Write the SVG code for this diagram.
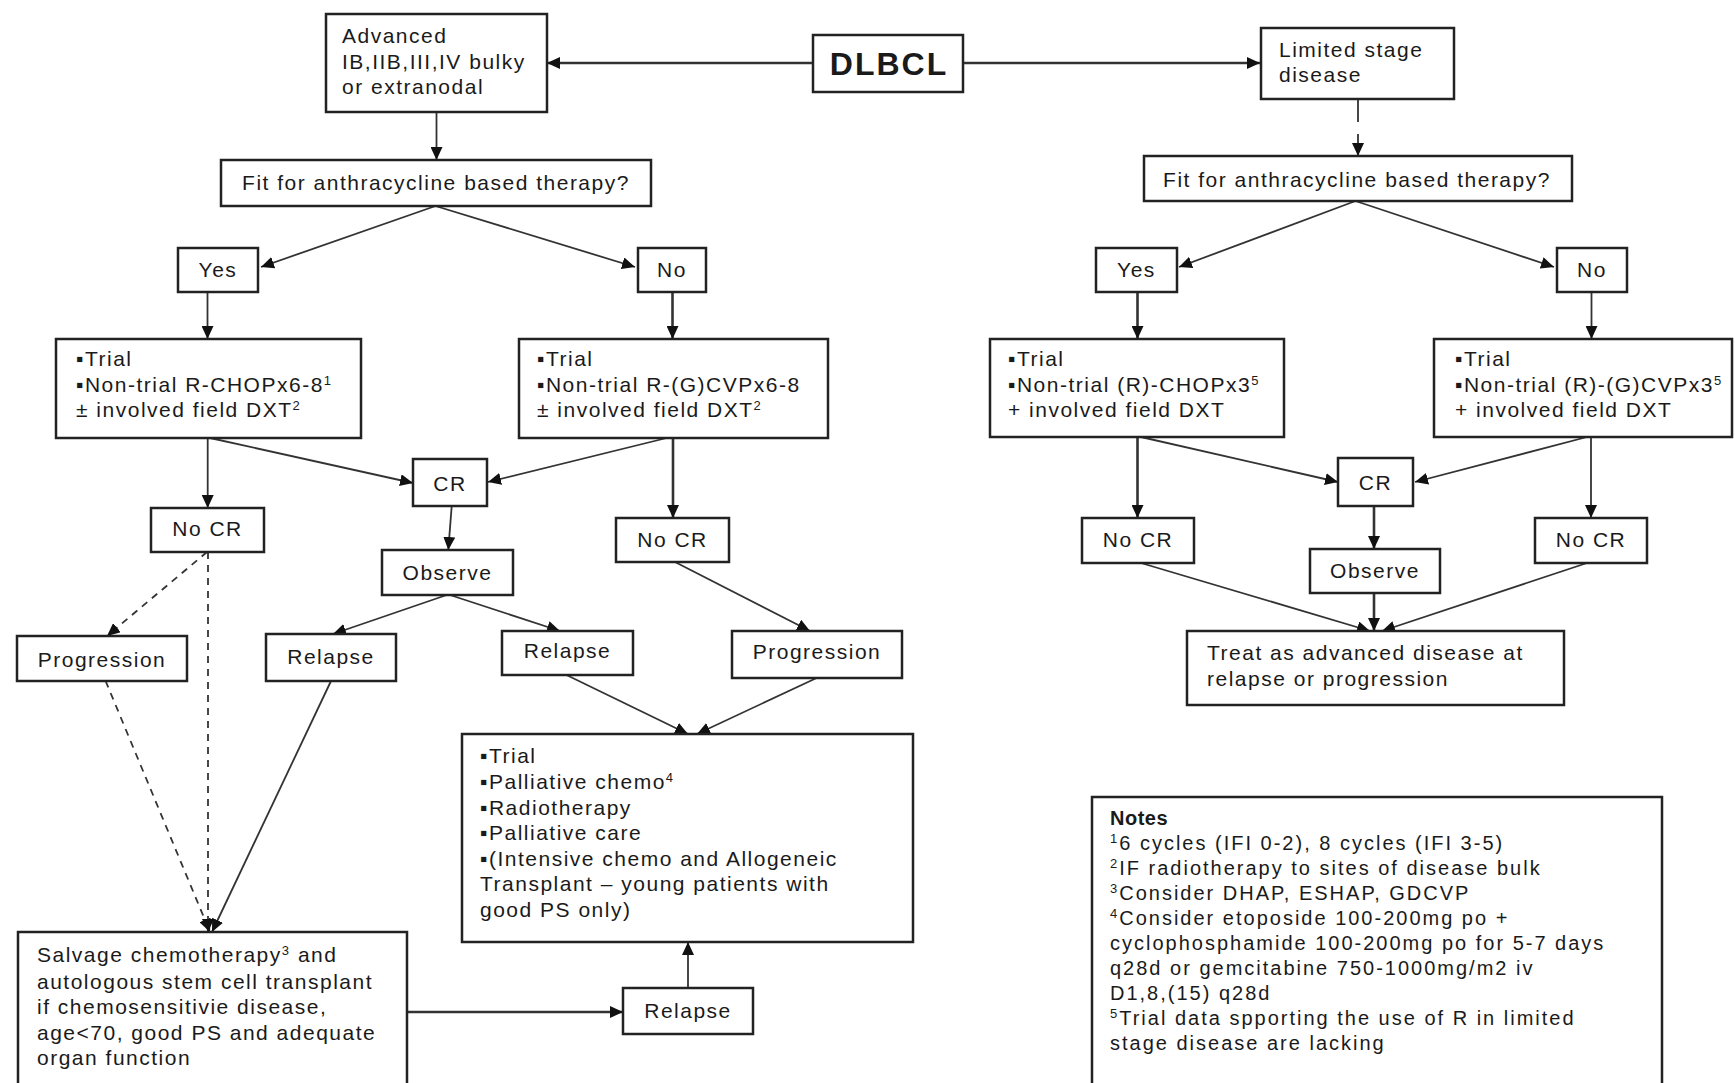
<svg xmlns="http://www.w3.org/2000/svg" width="1735" height="1083" viewBox="0 0 1735 1083">
<defs>
<marker id="ah" markerUnits="userSpaceOnUse" markerWidth="14" markerHeight="12" refX="13" refY="6" orient="auto">
<path d="M0,0 L13,6 L0,12 z" fill="#111"/>
</marker>
<style>
.box{fill:#fff;stroke:#222;stroke-width:2.5}
.t{font-family:"Liberation Sans",Arial,sans-serif;font-size:21px;letter-spacing:1.5px;fill:#1a1a1a}
.c{text-anchor:middle}
.n{font-family:"Liberation Sans",Arial,sans-serif;font-size:20px;letter-spacing:2px;fill:#1a1a1a}
.b{font-weight:bold}
.sup{font-size:13px;baseline-shift:super}
.ln{fill:none;stroke:#333;stroke-width:1.8;marker-end:url(#ah)}
.th{stroke-width:2.6}
.ds{stroke-dasharray:7 6}
</style>
</defs>
<rect width="1735" height="1083" fill="#fff"/>

<g id="connectors">
<path class="ln th" d="M813,63 H547"/>
<path class="ln th" d="M962,63 H1260"/>
<path class="ln" d="M436.5,112 V160"/>
<path class="ln" d="M1358,99 V156" stroke-dasharray="23 12 100"/>
<path class="ln" d="M435.5,206 L261,267"/>
<path class="ln" d="M435.5,206 L635,267"/>
<path class="ln" d="M207.5,292 V339"/>
<path class="ln th" d="M672.5,292 V339"/>
<path class="ln" d="M1355.5,201 L1179,267"/>
<path class="ln" d="M1355.5,201 L1554,267"/>
<path class="ln th" d="M1137.5,292 V339"/>
<path class="ln" d="M1591.5,292 V339"/>
<path class="ln" d="M207.7,438 V508"/>
<path class="ln" d="M210,438 L413,483"/>
<path class="ln" d="M666.7,438 L488,482"/>
<path class="ln th" d="M673,438 V518"/>
<path class="ln" d="M451.7,506 L448.3,550"/>
<path class="ln" d="M446.7,595 L333,634"/>
<path class="ln" d="M450,595 L560,631"/>
<path class="ln" d="M675,562 L810,631"/>
<path class="ln ds" d="M207,552 L107,636"/>
<path class="ln ds" d="M208,552 V932"/>
<path class="ln ds" d="M105.6,681 L210,932"/>
<path class="ln" d="M331,681 L212,932"/>
<path class="ln" d="M566.5,675 L688,734"/>
<path class="ln" d="M816.6,678 L697,734"/>
<path class="ln th" d="M407,1012 H623"/>
<path class="ln" d="M688,988 V942"/>
<path class="ln th" d="M1137.5,437 V518"/>
<path class="ln" d="M1141,437 L1338,482"/>
<path class="ln" d="M1587,437 L1415,482"/>
<path class="ln" d="M1591,437 V518"/>
<path class="ln th" d="M1374,506 V549"/>
<path class="ln th" d="M1374,593 V631"/>
<path class="ln" d="M1141,563 L1370,631"/>
<path class="ln" d="M1587,563 L1382,631"/>
</g>

<g id="dlbcl">
<rect class="box" x="813" y="35" width="150" height="57"/>
<text class="t b" x="889" y="75" text-anchor="middle" style="font-size:32px;letter-spacing:2px">DLBCL</text>
</g>

<g id="advanced">
<rect class="box" x="326" y="14" width="221" height="98"/>
<text class="t" x="342" y="43">Advanced</text>
<text class="t" x="342" y="69">IB,IIB,III,IV bulky</text>
<text class="t" x="342" y="94">or extranodal</text>
</g>

<g id="limited">
<rect class="box" x="1261" y="28" width="193" height="71"/>
<text class="t" x="1279" y="57">Limited stage</text>
<text class="t" x="1279" y="82">disease</text>
</g>

<g id="fit-left">
<rect class="box" x="221" y="160" width="430" height="46"/>
<text class="t c" x="436" y="190">Fit for anthracycline based therapy?</text>
</g>

<g id="fit-right">
<rect class="box" x="1144" y="156" width="428" height="45"/>
<text class="t c" x="1357" y="187">Fit for anthracycline based therapy?</text>
</g>

<g id="yes-left">
<rect class="box" x="178" y="248" width="80" height="44"/>
<text class="t c" x="218" y="277">Yes</text>
</g>
<g id="no-left">
<rect class="box" x="638" y="248" width="68" height="44"/>
<text class="t c" x="672" y="277">No</text>
</g>
<g id="yes-right">
<rect class="box" x="1096" y="248" width="81" height="44"/>
<text class="t c" x="1136.5" y="277">Yes</text>
</g>
<g id="no-right">
<rect class="box" x="1557" y="248" width="70" height="44"/>
<text class="t c" x="1592" y="277">No</text>
</g>

<g id="trial-left-1">
<rect class="box" x="56" y="339" width="305" height="99"/>
<text class="t" x="76" y="366">▪Trial</text>
<text class="t" x="76" y="392">▪Non-trial R-CHOPx6-8<tspan class="sup">1</tspan></text>
<text class="t" x="76" y="417">± involved field DXT<tspan class="sup">2</tspan></text>
</g>

<g id="trial-left-2">
<rect class="box" x="519" y="339" width="309" height="99"/>
<text class="t" x="537" y="366">▪Trial</text>
<text class="t" x="537" y="392">▪Non-trial R-(G)CVPx6-8</text>
<text class="t" x="537" y="417">± involved field DXT<tspan class="sup">2</tspan></text>
</g>

<g id="trial-right-1">
<rect class="box" x="990" y="339" width="294" height="98"/>
<text class="t" x="1008" y="366">▪Trial</text>
<text class="t" x="1008" y="392">▪Non-trial (R)-CHOPx3<tspan class="sup">5</tspan></text>
<text class="t" x="1008" y="417">+ involved field DXT</text>
</g>

<g id="trial-right-2">
<rect class="box" x="1434" y="339" width="298" height="98"/>
<text class="t" x="1455" y="366">▪Trial</text>
<text class="t" x="1455" y="392">▪Non-trial (R)-(G)CVPx3<tspan class="sup">5</tspan></text>
<text class="t" x="1455" y="417">+ involved field DXT</text>
</g>

<g id="nocr-left-1">
<rect class="box" x="151" y="508" width="113" height="44"/>
<text class="t c" x="207.5" y="536">No CR</text>
</g>
<g id="cr-left">
<rect class="box" x="413" y="459" width="74" height="47"/>
<text class="t c" x="450" y="491">CR</text>
</g>
<g id="observe-left">
<rect class="box" x="382" y="550" width="131" height="45"/>
<text class="t c" x="447.5" y="580">Observe</text>
</g>
<g id="nocr-left-2">
<rect class="box" x="616" y="518" width="113" height="44"/>
<text class="t c" x="672.5" y="547">No CR</text>
</g>
<g id="progression-left">
<rect class="box" x="17" y="636" width="170" height="45"/>
<text class="t c" x="102" y="667">Progression</text>
</g>
<g id="relapse-left">
<rect class="box" x="266" y="634" width="130" height="47"/>
<text class="t c" x="331" y="664">Relapse</text>
</g>
<g id="relapse-mid">
<rect class="box" x="502" y="631" width="131" height="44"/>
<text class="t c" x="567.5" y="658">Relapse</text>
</g>
<g id="progression-mid">
<rect class="box" x="732" y="631" width="170" height="47"/>
<text class="t c" x="817" y="659">Progression</text>
</g>

<g id="palliative">
<rect class="box" x="462" y="734" width="451" height="208"/>
<text class="t" x="480" y="763">▪Trial</text>
<text class="t" x="480" y="789">▪Palliative chemo<tspan class="sup">4</tspan></text>
<text class="t" x="480" y="815">▪Radiotherapy</text>
<text class="t" x="480" y="840">▪Palliative care</text>
<text class="t" x="480" y="866">▪(Intensive chemo and Allogeneic</text>
<text class="t" x="480" y="891">Transplant – young patients with</text>
<text class="t" x="480" y="917">good PS only)</text>
</g>

<g id="salvage">
<path class="box" d="M18,1090 V932 H407 V1090"/>
<text class="t" x="37" y="962">Salvage chemotherapy<tspan class="sup">3</tspan> and</text>
<text class="t" x="37" y="989">autologous stem cell transplant</text>
<text class="t" x="37" y="1014">if chemosensitivie disease,</text>
<text class="t" x="37" y="1040">age&lt;70, good PS and adequate</text>
<text class="t" x="37" y="1065">organ function</text>
</g>

<g id="relapse-bottom">
<rect class="box" x="623" y="988" width="130" height="46"/>
<text class="t c" x="688" y="1018">Relapse</text>
</g>

<g id="nocr-right-1">
<rect class="box" x="1082" y="518" width="112" height="45"/>
<text class="t c" x="1138" y="547">No CR</text>
</g>
<g id="cr-right">
<rect class="box" x="1338" y="458" width="75" height="48"/>
<text class="t c" x="1375.5" y="490">CR</text>
</g>
<g id="nocr-right-2">
<rect class="box" x="1535" y="518" width="112" height="45"/>
<text class="t c" x="1591" y="547">No CR</text>
</g>
<g id="observe-right">
<rect class="box" x="1310" y="549" width="130" height="44"/>
<text class="t c" x="1375" y="578">Observe</text>
</g>
<g id="treat">
<rect class="box" x="1187" y="631" width="377" height="74"/>
<text class="t" x="1207" y="660">Treat as advanced disease at</text>
<text class="t" x="1207" y="686">relapse or progression</text>
</g>

<g id="notes">
<path class="box" d="M1092,1090 V797 H1662 V1090"/>
<text class="n b" x="1110" y="825" style="letter-spacing:0.5px">Notes</text>
<text class="n" x="1110" y="850"><tspan class="sup">1</tspan>6 cycles (IFI 0-2), 8 cycles (IFI 3-5)</text>
<text class="n" x="1110" y="875"><tspan class="sup">2</tspan>IF radiotherapy to sites of disease bulk</text>
<text class="n" x="1110" y="900"><tspan class="sup">3</tspan>Consider DHAP, ESHAP, GDCVP</text>
<text class="n" x="1110" y="925"><tspan class="sup">4</tspan>Consider etoposide 100-200mg po +</text>
<text class="n" x="1110" y="950">cyclophosphamide 100-200mg po for 5-7 days</text>
<text class="n" x="1110" y="975">q28d or gemcitabine 750-1000mg/m2 iv</text>
<text class="n" x="1110" y="1000">D1,8,(15) q28d</text>
<text class="n" x="1110" y="1025"><tspan class="sup">5</tspan>Trial data spporting the use of R in limited</text>
<text class="n" x="1110" y="1050">stage disease are lacking</text>
</g>
</svg>
